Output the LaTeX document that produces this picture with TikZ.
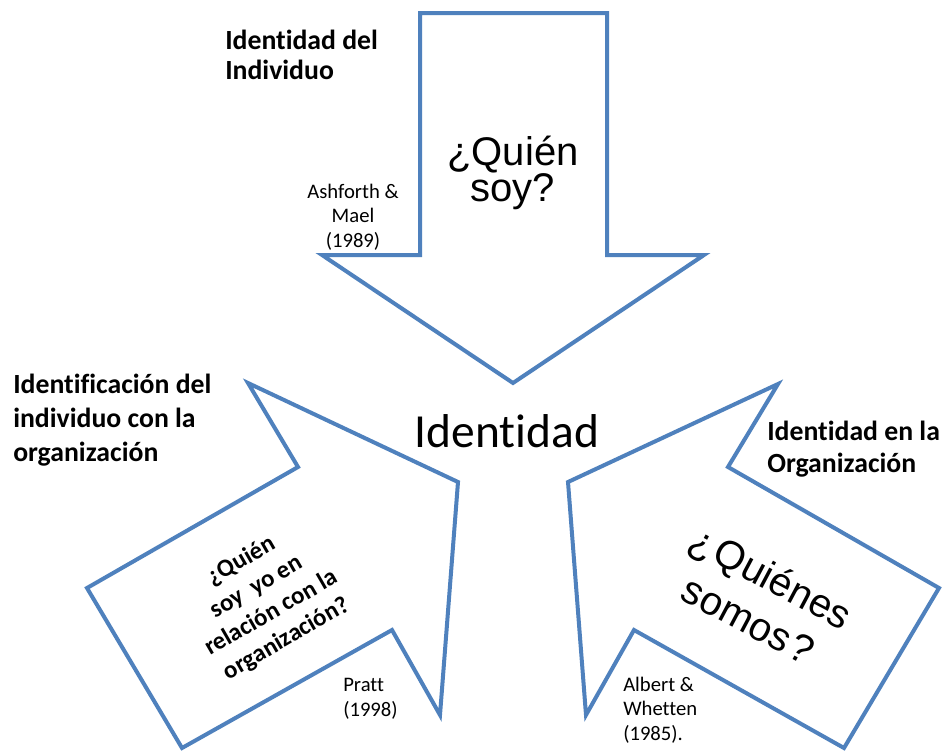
\documentclass[tikz,border=0pt]{standalone}
\usepackage{fontspec}
\setmainfont[RawFeature={-liga}]{Carlito}
\newfontfamily\arialf{Liberation Sans}
\definecolor{arrowblue}{RGB}{79,129,189}
\begin{document}
\begin{tikzpicture}[x=0.75pt,y=-0.75pt,
  bigarrow/.style={draw=arrowblue,line width=3pt,line join=miter,fill=white},
  label/.style={font=\fontsize{20.8}{25.5}\selectfont\bfseries,align=left,inner sep=0pt,anchor=north west},
  cite/.style={font=\fontsize{15.5}{18.5}\selectfont,inner sep=0pt},
  question/.style={font=\arialf\fontsize{30}{25.5}\selectfont,align=center,inner sep=0pt}]
\useasboundingbox (0,0) rectangle (942,753);
% top arrow
\draw[bigarrow] (420,13) -- (607,13) -- (607,255) -- (704,255) -- (513,383) -- (322,255) -- (420,255) -- cycle;
% left arrow
\draw[bigarrow] (248,383) -- (458,482) -- (440,715) -- (392,630) -- (182,748) -- (87,588) -- (298,467) -- cycle;
% right arrow
\draw[bigarrow] (778,384) -- (568,482) -- (586,715) -- (634,630) -- (844,748) -- (939,588) -- (728,467) -- cycle;
% texts
\node[label,font=\fontsize{20.8}{22.5}\selectfont\bfseries] (lind) at (225,30) {Identidad del\\Individuo};
\node[label] (lorg) at (13,374) {Identificación del\\individuo con la\\organización};
\node[label,font=\fontsize{20.8}{24}\selectfont\bfseries] (lior) at (767,421) {Identidad en la\\Organización};
\node[font=\fontsize{35.6}{40}\selectfont,inner sep=0pt] (ident) at (507,431) {Identidad};
\node[question] (qsoy) at (513,173) {¿Quién\\soy?};
\node[cite,align=center] (ash) at (353,217) {Ashforth \&\\Mael\\(1989)};
\node[cite,align=left,anchor=west] (pratt) at (343,699) {Pratt\\(1998)};
\node[cite,align=left,anchor=west] (albert) at (623,710) {Albert \&\\Whetten\\(1985).};
\node[font=\fontsize{18.6}{22.5}\selectfont\bfseries,align=center,inner sep=0pt,rotate=30] (qrel) at (264,600) {¿Quién\\soy\ \ yo en\\relación con la\\organización?};
\node[question,font=\arialf\fontsize{30}{36.5}\selectfont,rotate=-28] (qsom) at (760,598) {¿\kern2pt Quiénes\\somos\kern2pt ?};
\end{tikzpicture}
\end{document}
